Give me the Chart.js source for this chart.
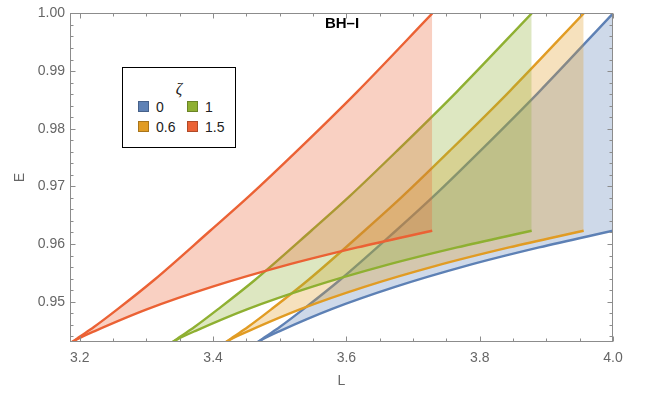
<!DOCTYPE html>
<html>
<head>
<meta charset="utf-8">
<script src="https://cdn.jsdelivr.net/npm/chart.js@4.4.1/dist/chart.umd.min.js"></script>
<style>
  body { margin: 0; background: #fff; }
  #wrap { position: relative; width: 649px; height: 394px; font-family: "Liberation Sans", Arial, sans-serif; }
  #plotTitle { position: absolute; left: 292px; width: 100px; top: 14px; text-align: center;
    font-weight: bold; font-size: 15px; color: #000; }
  #legend { position: absolute; left: 122px; top: 67px; width: 112px; height: 79px;
    border: 1px solid #000; background: #fff; font-size: 14px; color: #222; }
  #legend .zeta { position: absolute; left: 0; width: 112px; top: 12px; text-align: center;
    font-family: "Liberation Serif", serif; font-style: italic; font-size: 16px; }
  #legend .item { position: absolute; height: 12px; line-height: 12px; }
  #legend .sw { display: inline-block; width: 9px; height: 9px; border: 1px solid; vertical-align: top; margin-right: 7px; }
</style>
</head>
<body>
<div id="wrap">
  <canvas id="energyChart" width="649" height="394"></canvas>
  <div id="plotTitle">BH–I</div>
  <div id="legend"><div class="zeta">ζ</div></div>
</div>
<script>
// zeta values shown in the legend
var zetaLabels = ['0', '0.6', '1', '1.5'];

// upper branch: energy levels and angular momentum at each level
var upperE = [0.9428, 0.9430, 0.9439, 0.9456, 0.9487, 0.9538, 0.9623, 0.9683, 0.9762, 0.9864, 1.0000];
var upperL0 = [3.4641, 3.4674, 3.4785, 3.5000, 3.5355, 3.5907, 3.6742, 3.7310, 3.8013, 3.8891, 4.0000];
var upperL06 = [3.4163, 3.4196, 3.4307, 3.4522, 3.4877, 3.5432, 3.6272, 3.6845, 3.7553, 3.8441, 3.9560];
var upperL1 = [3.3361, 3.3394, 3.3505, 3.3720, 3.4075, 3.4632, 3.5472, 3.6050, 3.6763, 3.7656, 3.8780];
var upperL15 = [3.1853, 3.1886, 3.1997, 3.2212, 3.2567, 3.3119, 3.3956, 3.4540, 3.5263, 3.6161, 3.7288];

// lower branch
var lowerE = [0.9428, 0.9435, 0.9449, 0.9487, 0.9526, 0.9562, 0.9594, 0.9623];
var lowerL0 = [3.4641, 3.4744, 3.5000, 3.5777, 3.6742, 3.7796, 3.8891, 4.0000];
var lowerL06 = [3.4163, 3.4269, 3.4530, 3.5312, 3.6282, 3.7341, 3.8441, 3.9560];
var lowerL1 = [3.3361, 3.3469, 3.3730, 3.4517, 3.5492, 3.6556, 3.7661, 3.8780];
var lowerL15 = [3.1853, 3.1962, 3.2225, 3.3014, 3.3992, 3.5059, 3.6166, 3.7288];

// axis ticks
var xTicks = [3.2, 3.4, 3.6, 3.8, 4.0];
var yTicks = [0.95, 0.96, 0.97, 0.98, 0.99, 1.00];

var lineColors = ['#5e81b5', '#e19c24', '#8fb032', '#eb6235'];
var fillColors = ['rgba(94,129,181,0.3)', 'rgba(225,156,36,0.3)', 'rgba(143,176,50,0.3)', 'rgba(235,98,53,0.3)'];
var borderColors = ['#46618a', '#a9751b', '#6b8426', '#b04a28'];

function toPoints(ls, es) {
    return ls.map(function(l, i) { return {x: l, y: es[i]}; });
}

var curves = [
    [upperL0, lowerL0],
    [upperL06, lowerL06],
    [upperL1, lowerL1],
    [upperL15, lowerL15]
];

// index 0 is drawn last, so the largest zeta goes first
var datasets = [];
for (var k = curves.length - 1; k >= 0; k--) {
    datasets.push({
        label: zetaLabels[k],
        data: toPoints(curves[k][0], upperE),
        borderColor: lineColors[k],
        backgroundColor: fillColors[k],
        fill: '+1'
    });
    datasets.push({
        label: zetaLabels[k] + ' lower',
        data: toPoints(curves[k][1], lowerE),
        borderColor: lineColors[k],
        fill: false
    });
}

// frame with inward ticks on all four sides
var frameTicks = {
    id: 'frameTicks',
    afterDatasetsDraw: function(chart) {
        var ctx = chart.ctx, a = chart.chartArea;
        var xs = chart.scales.x, ys = chart.scales.y;
        ctx.save();
        ctx.strokeStyle = '#8c8c8c';
        ctx.lineWidth = 1;
        var l = Math.round(a.left) + 0.5, r = Math.round(a.right) - 0.5;
        var t = Math.round(a.top) + 0.5, b = Math.round(a.bottom) - 0.5;
        ctx.strokeRect(l, t, r - l, b - t);
        ctx.beginPath();
        var v, p, len;
        for (v = 3.2; v <= 4.0001; v += 0.05) {
            p = Math.round(xs.getPixelForValue(v)) + 0.5;
            len = Math.abs(v * 5 - Math.round(v * 5)) < 1e-6 ? 5 : 3;
            ctx.moveTo(p, b); ctx.lineTo(p, b - len);
            ctx.moveTo(p, t); ctx.lineTo(p, t + len);
        }
        for (v = 0.944; v <= 1.0001; v += 0.002) {
            p = Math.round(ys.getPixelForValue(v)) + 0.5;
            len = Math.abs(v * 100 - Math.round(v * 100)) < 1e-6 ? 5 : 3;
            ctx.moveTo(l, p); ctx.lineTo(l + len, p);
            ctx.moveTo(r, p); ctx.lineTo(r - len, p);
        }
        ctx.stroke();
        ctx.restore();
    }
};

new Chart(document.getElementById('energyChart'), {
    type: 'line',
    data: { datasets: datasets },
    options: {
        responsive: false,
        animation: false,
        layout: { padding: { left: 0, right: 36, top: 7, bottom: 0 } },
        elements: {
            point: { radius: 0 },
            line: { borderWidth: 2.4, cubicInterpolationMode: 'monotone' }
        },
        scales: {
            x: {
                type: 'linear',
                min: 3.1853,
                max: 4.0,
                grid: { display: false, drawTicks: false },
                border: { display: false },
                afterFit: function(s) { s.height = 52; },
                afterBuildTicks: function(s) {
                    s.ticks = xTicks.map(function(v) { return {value: v}; });
                },
                ticks: {
                    padding: 8,
                    color: '#666',
                    font: { family: 'Liberation Sans', size: 14 },
                    callback: function(v) { return v.toFixed(1); }
                },
                title: {
                    display: true,
                    text: 'L',
                    color: '#666',
                    padding: { bottom: 4 },
                    font: { family: 'Liberation Sans', size: 14 }
                }
            },
            y: {
                type: 'linear',
                min: 0.943,
                max: 1.0,
                grid: { display: false, drawTicks: false },
                border: { display: false },
                afterFit: function(s) { s.width = 70; },
                afterBuildTicks: function(s) {
                    s.ticks = yTicks.map(function(v) { return {value: v}; });
                },
                ticks: {
                    padding: 5,
                    color: '#666',
                    font: { family: 'Liberation Sans', size: 14 },
                    callback: function(v) { return v.toFixed(2); }
                },
                title: {
                    display: true,
                    text: 'E',
                    color: '#666',
                    padding: { top: 12 },
                    font: { family: 'Liberation Sans', size: 14 }
                }
            }
        },
        plugins: {
            legend: { display: false },
            tooltip: { enabled: false },
            filler: { drawTime: 'beforeDatasetDraw' }
        }
    },
    plugins: [frameTicks]
});

// legend box: two columns, two rows
var legendPos = [[15, 33], [15, 53], [64, 33], [64, 53]];
var legend = document.getElementById('legend');
zetaLabels.forEach(function(lab, k) {
    var item = document.createElement('div');
    item.className = 'item';
    item.style.left = legendPos[k][0] + 'px';
    item.style.top = legendPos[k][1] + 'px';
    item.innerHTML = '<span class="sw" style="background:' + lineColors[k] +
        ';border-color:' + borderColors[k] + '"></span>' + lab;
    legend.appendChild(item);
});
</script>
</body>
</html>
